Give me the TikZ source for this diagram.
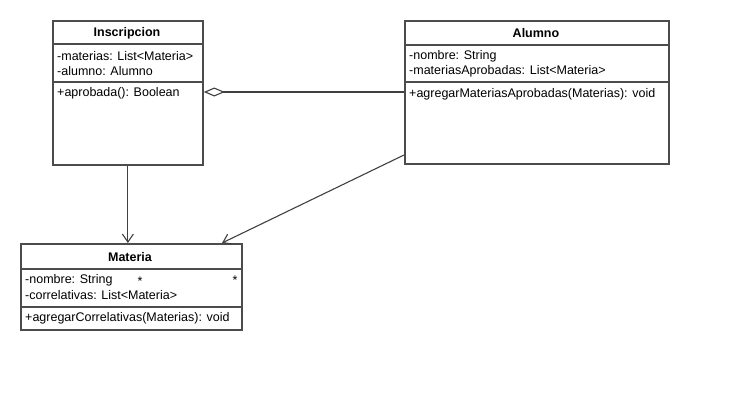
\documentclass[tikz,border=0pt]{standalone}
\usepackage{fontspec}
\setmainfont{Liberation Sans}
\usetikzlibrary{arrows.meta}

\begin{document}
\begin{tikzpicture}[x=1pt, y=-1pt, font=\fontsize{12.5}{14}\selectfont,
		umlbox/.style={shape=rectangle, draw=black!70, line width=1.8pt, fill=white, anchor=north west, inner sep=0pt},
		classname/.style={font=\fontsize{12.5}{14}\selectfont\bfseries},
		member/.style={anchor=west, inner sep=0pt},
		sep/.style={draw=black!70, line width=1.6pt},
		link/.style={draw=black!75, line width=1.1pt}]
	\useasboundingbox (0,0) rectangle (749,410);

	% classes
	\node (insc) at (52,20) [umlbox, minimum width=150pt, minimum height=144pt] {};
	\node (alum) at (404,20) [umlbox, minimum width=264pt, minimum height=143pt] {};
	\node (mat) at (20,243) [umlbox, minimum width=221pt, minimum height=86pt] {};

	\node (inscName) at (127,33) [classname] {Inscripcion};
	\draw[sep] (52,44) -- (202,44);
	\node (inscA1) at (57,56) [member] {-materias: List<Materia>};
	\node (inscA2) at (57,71) [member] {-alumno: Alumno};
	\draw[sep] (52,82) -- (202,82);
	\node (inscM1) at (57,93) [member] {+aprobada(): Boolean};

	\node (alumName) at (536,33) [classname] {Alumno};
	\draw[sep] (404,45) -- (668,45);
	\node (alumA1) at (409,56) [member] {-nombre: String};
	\node (alumA2) at (409,71) [member] {-materiasAprobadas: List<Materia>};
	\draw[sep] (404,82) -- (668,82);
	\node (alumM1) at (409,94) [member] {+agregarMateriasAprobadas(Materias): void};

	\node (matName) at (130,257) [classname] {Materia};
	\draw[sep] (20,269) -- (241,269);
	\node (matA1) at (25,280) [member] {-nombre: String};
	\node (matA2) at (25,295) [member] {-correlativas: List<Materia>};
	\draw[sep] (20,307) -- (241,307);
	\node (matM1) at (25,318) [member] {+agregarCorrelativas(Materias): void};

	% connectors
	\coordinate (alumOut) at (404,155);
	\coordinate (matIn) at (222,243);
	\draw[link, {Diamond[open, fill=white, length=21pt, width=9pt]}-] (insc.east |- 0,92) -- (alum.west |- 0,92);
	\draw[link, -{Straight Barb[length=8pt, width=11pt]}] (insc.south) -- (insc.south |- mat.north);
	\draw[link, -{Straight Barb[length=8pt, width=11pt]}] (alumOut) -- (matIn);

	\node (multA) at (140,281) {*};
	\node (multB) at (235,280) {*};
\end{tikzpicture}
\end{document}
